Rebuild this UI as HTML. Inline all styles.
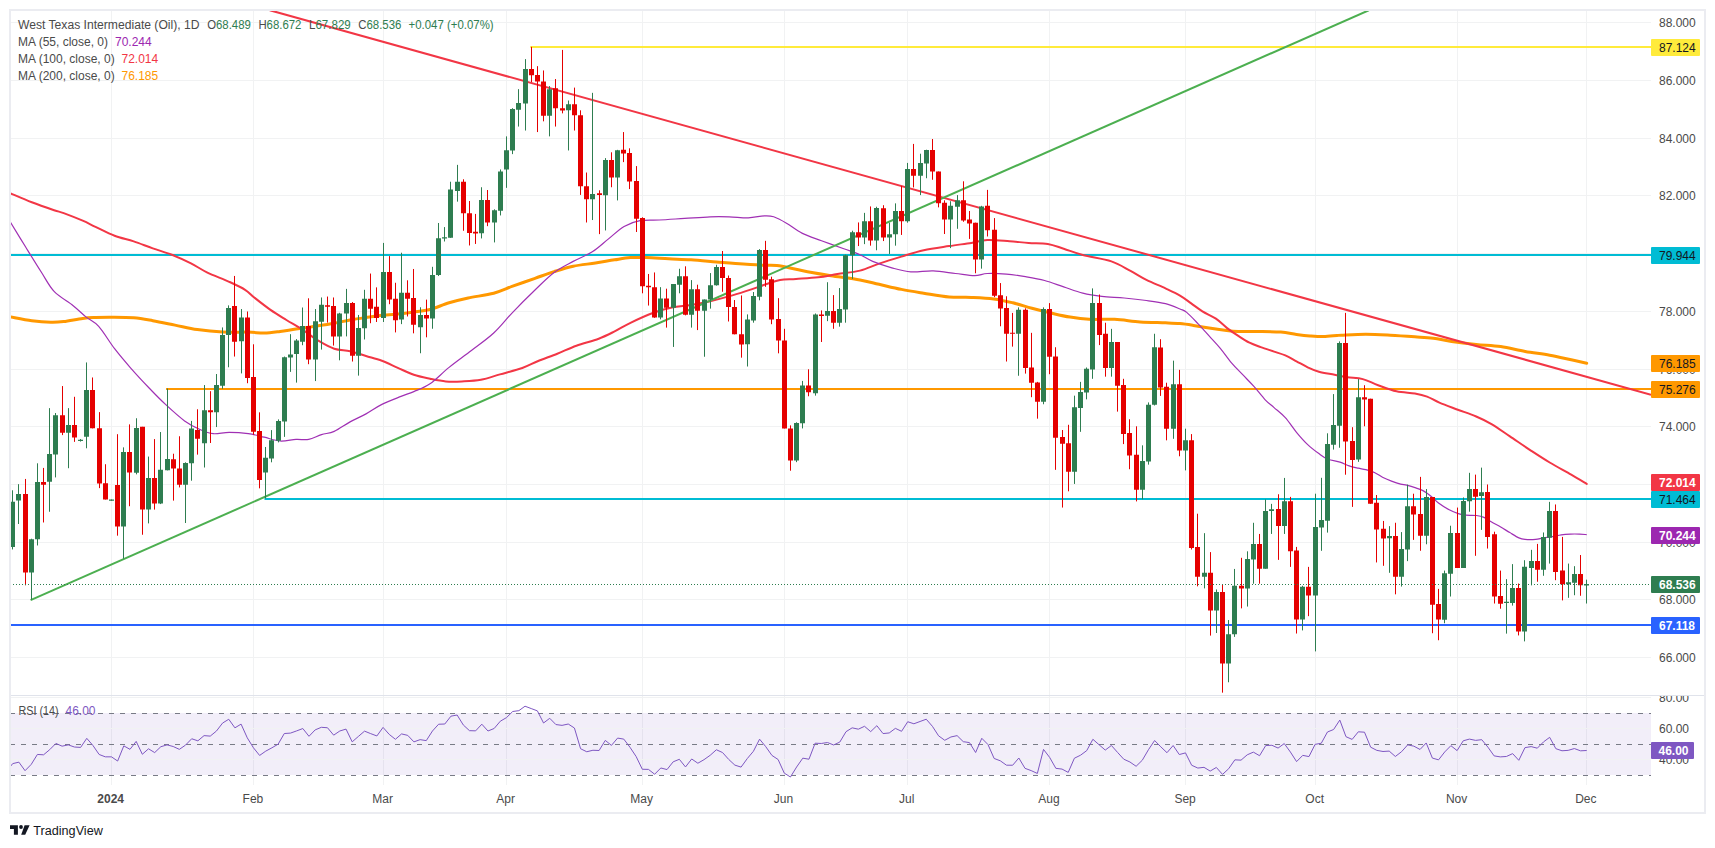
<!DOCTYPE html><html><head><meta charset="utf-8"><title>West Texas Intermediate (Oil), 1D</title>
<style>html,body{margin:0;padding:0;background:#fff;}body{width:1715px;height:848px;overflow:hidden;}svg{display:block;}text{font-family:'Liberation Sans', Arial, sans-serif;}</style></head><body>
<svg width="1715" height="848" viewBox="0 0 1715 848">
<rect width="1715" height="848" fill="#ffffff"/>
<defs><clipPath id="mp"><rect x="11" y="11" width="1640" height="684"/></clipPath><clipPath id="rp"><rect x="11" y="696" width="1640" height="88"/></clipPath><clipPath id="rl"><rect x="11" y="696" width="1692" height="88"/></clipPath></defs>
<path d="M11 657.5 H1651 M11 599.5 H1651 M11 542.5 H1651 M11 484.5 H1651 M11 426.5 H1651 M11 369.5 H1651 M11 311.5 H1651 M11 253.5 H1651 M11 195.5 H1651 M11 138.5 H1651 M11 80.5 H1651 M11 22.5 H1651 M111.5 11 V695 M111.5 696 V785 M253.5 11 V695 M253.5 696 V785 M383.5 11 V695 M383.5 696 V785 M506.5 11 V695 M506.5 696 V785 M642.5 11 V695 M642.5 696 V785 M784.5 11 V695 M784.5 696 V785 M907.5 11 V695 M907.5 696 V785 M1049.5 11 V695 M1049.5 696 V785 M1185.5 11 V695 M1185.5 696 V785 M1315.5 11 V695 M1315.5 696 V785 M1457.5 11 V695 M1457.5 696 V785 M1586.5 11 V695 M1586.5 696 V785" stroke="#f1f2f3" stroke-width="1" fill="none"/>
<rect x="11" y="713" width="1640" height="62" fill="#7e57c2" fill-opacity="0.1"/>
<path d="M11 728.5 H1651 M11 759.5 H1651" stroke="#f1f2f3" stroke-width="1"/>
<path d="M11 697.5 H1651" stroke="#f1f2f3" stroke-width="1"/>
<path d="M10 713.5 H1651" stroke="#787b86" stroke-width="1" stroke-dasharray="5 6"/>
<path d="M10 744.5 H1651" stroke="#787b86" stroke-width="1" stroke-dasharray="5 6"/>
<path d="M10 775.5 H1651" stroke="#787b86" stroke-width="1" stroke-dasharray="5 6"/>
<g clip-path="url(#mp)">
<path d="M11 255 H1651" stroke="#00bcd4" stroke-width="2"/>
<path d="M264.5 499 H1651" stroke="#00bcd4" stroke-width="2"/>
<path d="M11 625 H1651" stroke="#2962ff" stroke-width="2"/>
<path d="M530.3 47 H1651" stroke="#ffeb3b" stroke-width="2"/>
<path d="M166 389 H1651" stroke="#ff9800" stroke-width="2"/>
<path d="M10.5 316.9 C14.05 317.53 25.07 319.8 31.8 320.7 C38.53 321.6 45.58 322.15 50.9 322.3 C56.22 322.45 58.4 322.25 63.7 321.6 C69 320.95 77.4 319.08 82.7 318.4 C88 317.72 90.72 317.7 95.5 317.5 C100.28 317.3 105.03 317.15 111.4 317.2 C117.77 317.25 126.8 317.22 133.7 317.8 C140.6 318.38 145.92 319.48 152.8 320.7 C159.68 321.92 167.58 323.62 175 325.1 C182.42 326.58 189.33 328.43 197.3 329.6 C205.27 330.77 214.3 331.68 222.8 332.1 C231.3 332.52 241.4 331.93 248.3 332.1 C255.2 332.27 258.9 333.2 264.2 333.1 C269.5 333 274.8 332.18 280.1 331.5 C285.4 330.82 289.63 329.95 296 329 C302.37 328.05 311.93 326.77 318.3 325.8 C324.67 324.83 328.9 324.17 334.2 323.2 C339.5 322.23 344.8 320.95 350.1 320 C355.4 319.05 360.7 318.28 366 317.5 C371.3 316.72 376.07 315.93 381.9 315.3 C387.73 314.67 395.68 314.23 401 313.7 C406.32 313.17 408.97 312.8 413.8 312.1 C418.63 311.4 424.12 311.05 430 309.5 C435.88 307.95 442.73 304.72 449.1 302.8 C455.47 300.88 460.77 299.6 468.2 298 C475.63 296.4 486.28 295.17 493.7 293.2 C501.12 291.23 505.82 288.68 512.7 286.2 C519.58 283.72 528.1 280.73 535 278.3 C541.9 275.87 547.73 273.62 554.1 271.6 C560.47 269.58 566.3 267.63 573.2 266.2 C580.1 264.77 588.6 264.07 595.5 263 C602.4 261.93 608.77 260.7 614.6 259.8 C620.43 258.9 625.2 257.97 630.5 257.6 C635.8 257.23 640.03 257.4 646.4 257.6 C652.77 257.8 661.27 258.43 668.7 258.8 C676.13 259.17 683.05 259.27 691 259.8 C698.95 260.33 708.98 261.37 716.4 262 C723.82 262.63 728.07 263.07 735.5 263.6 C742.93 264.13 754.1 264.88 761 265.2 C767.9 265.52 771.07 264.82 776.9 265.5 C782.73 266.18 790.17 268.13 796 269.3 C801.83 270.47 806.07 271.43 811.9 272.5 C817.73 273.57 822.98 274.47 831 275.7 C839.02 276.93 851.98 278.47 860 279.9 C868.02 281.33 872.2 282.72 879.1 284.3 C886 285.88 893.97 287.92 901.4 289.4 C908.83 290.88 915.75 291.93 923.7 293.2 C931.65 294.47 941.15 296.3 949.1 297 C957.05 297.7 963.97 297.08 971.4 297.4 C978.83 297.72 986.8 298 993.7 298.9 C1000.6 299.8 1006.43 301.25 1012.8 302.8 C1019.17 304.35 1025.53 306.5 1031.9 308.2 C1038.27 309.9 1044.63 311.52 1051 313 C1057.37 314.48 1063.73 316.05 1070.1 317.1 C1076.47 318.15 1081.78 318.93 1089.2 319.3 C1096.62 319.67 1106.12 318.87 1114.6 319.3 C1123.08 319.73 1131.62 321.32 1140.1 321.9 C1148.58 322.48 1158.85 322.52 1165.5 322.8 C1172.15 323.08 1175.35 323.17 1180 323.6 C1184.65 324.03 1188.55 324.65 1193.4 325.4 C1198.25 326.15 1203.87 327.28 1209.1 328.1 C1214.33 328.92 1219.93 329.73 1224.8 330.3 C1229.67 330.87 1232.7 331.3 1238.3 331.5 C1243.9 331.7 1251.32 331.4 1258.4 331.5 C1265.48 331.6 1274.45 331.62 1280.8 332.1 C1287.15 332.58 1291.63 333.77 1296.5 334.4 C1301.37 335.03 1305.52 335.53 1310 335.9 C1314.48 336.27 1318.92 336.67 1323.4 336.6 C1327.88 336.53 1333.92 335.73 1336.9 335.5 C1339.88 335.27 1336.48 335.4 1341.3 335.2 C1346.12 335 1357.63 334.3 1365.8 334.3 C1373.97 334.3 1382.12 334.78 1390.3 335.2 C1398.48 335.62 1407.73 336.28 1414.9 336.8 C1422.07 337.32 1427.18 337.53 1433.3 338.3 C1439.42 339.07 1444.45 340.38 1451.6 341.4 C1458.75 342.42 1468.02 343.53 1476.2 344.4 C1484.38 345.27 1492.53 345.42 1500.7 346.6 C1508.87 347.78 1517.03 350.07 1525.2 351.5 C1533.37 352.93 1542.03 353.82 1549.7 355.2 C1557.37 356.58 1565.03 358.47 1571.2 359.8 C1577.37 361.13 1584.12 362.63 1586.7 363.2" stroke="#ff9800" stroke-width="3" fill="none" stroke-linejoin="round" stroke-linecap="round"/>
<path d="M10.5 193.4 C14.05 194.88 24.53 199.5 31.8 202.3 C39.07 205.1 48.78 208.4 54.1 210.2 C59.42 212 58.93 211.35 63.7 213.1 C68.47 214.85 77.4 218.42 82.7 220.7 C88 222.98 90.18 224.3 95.5 226.8 C100.82 229.3 108.23 233.27 114.6 235.7 C120.97 238.13 127.33 239.28 133.7 241.4 C140.07 243.52 146.43 246.17 152.8 248.4 C159.17 250.63 165.53 252.3 171.9 254.8 C178.27 257.3 185.17 260.48 191 263.4 C196.83 266.32 200.53 269.23 206.9 272.3 C213.27 275.37 222.83 278.88 229.2 281.8 C235.57 284.72 240.87 287.13 245.1 289.8 C249.33 292.47 250.37 294.45 254.6 297.8 C258.83 301.15 265.2 306.2 270.5 309.9 C275.8 313.6 281.08 316.72 286.4 320 C291.72 323.28 297.08 326.15 302.4 329.6 C307.72 333.05 313 337.52 318.3 340.7 C323.6 343.88 328.9 346.95 334.2 348.7 C339.5 350.45 344.8 349.98 350.1 351.2 C355.4 352.42 360.7 354.4 366 356 C371.3 357.6 376.6 358.83 381.9 360.8 C387.2 362.77 392.48 365.47 397.8 367.8 C403.12 370.13 408.43 372.98 413.8 374.8 C419.17 376.62 424.65 377.6 430 378.7 C435.35 379.8 440.6 380.95 445.9 381.4 C451.2 381.85 455.97 381.67 461.8 381.4 C467.63 381.13 474.53 380.97 480.9 379.8 C487.27 378.63 493.1 376.37 500 374.4 C506.9 372.43 515.93 370.23 522.3 368 C528.67 365.77 532.37 363.38 538.2 361 C544.03 358.62 550.93 356.25 557.3 353.7 C563.67 351.15 569.5 348.2 576.4 345.7 C583.3 343.2 592.33 341.08 598.7 338.7 C605.07 336.32 609.3 334.05 614.6 331.4 C619.9 328.75 624.13 325.87 630.5 322.8 C636.87 319.73 645.9 315.55 652.8 313 C659.7 310.45 665.53 308.83 671.9 307.5 C678.27 306.17 684.63 306.05 691 305 C697.37 303.95 703.2 302.8 710.1 301.2 C717 299.6 725.52 297.37 732.4 295.4 C739.28 293.43 745.57 291.35 751.4 289.4 C757.23 287.45 762.62 285.28 767.4 283.7 C772.18 282.12 775.33 280.7 780.1 279.9 C784.87 279.1 789.63 279.33 796 278.9 C802.37 278.47 811.4 278.1 818.3 277.3 C825.2 276.5 830.45 275.22 837.4 274.1 C844.35 272.98 853.05 272.35 860 270.6 C866.95 268.85 872.2 265.93 879.1 263.6 C886 261.27 893.97 258.82 901.4 256.6 C908.83 254.38 915.75 252.05 923.7 250.3 C931.65 248.55 941.15 247.33 949.1 246.1 C957.05 244.87 965.03 243.9 971.4 242.9 C977.77 241.9 980.93 240.37 987.3 240.1 C993.67 239.83 1002.7 240.83 1009.6 241.3 C1016.5 241.77 1022.33 242.47 1028.7 242.9 C1035.07 243.33 1041.97 242.93 1047.8 243.9 C1053.63 244.87 1057.87 246.85 1063.7 248.7 C1069.53 250.55 1074.85 252.88 1082.8 255 C1090.75 257.12 1103.45 258.75 1111.4 261.4 C1119.35 264.05 1124.67 267.82 1130.5 270.9 C1136.33 273.98 1140.57 276.98 1146.4 279.9 C1152.23 282.82 1159.9 285.78 1165.5 288.4 C1171.1 291.02 1175.72 293.1 1180 295.6 C1184.28 298.1 1187.47 300.78 1191.2 303.4 C1194.93 306.02 1198.28 308.75 1202.4 311.3 C1206.52 313.85 1211.78 315.9 1215.9 318.7 C1220.02 321.5 1223.37 325.23 1227.1 328.1 C1230.83 330.97 1234.57 333.47 1238.3 335.9 C1242.03 338.33 1245.77 340.83 1249.5 342.7 C1253.23 344.57 1256.6 345.62 1260.7 347.1 C1264.8 348.58 1270 350.22 1274.1 351.6 C1278.2 352.98 1281.57 353.78 1285.3 355.4 C1289.03 357.02 1292.77 359.32 1296.5 361.3 C1300.23 363.28 1303.97 365.55 1307.7 367.3 C1311.43 369.05 1314.42 370.57 1318.9 371.8 C1323.38 373.03 1329.85 373.8 1334.6 374.7 C1339.35 375.6 1342.7 376.47 1347.4 377.2 C1352.1 377.93 1357.68 377.77 1362.8 379.1 C1367.92 380.43 1372.48 383.17 1378.1 385.2 C1383.72 387.23 1390.37 389.92 1396.5 391.3 C1402.63 392.68 1409.8 392.62 1414.9 393.5 C1420 394.38 1423.02 395.07 1427.1 396.6 C1431.18 398.13 1434.28 400.52 1439.4 402.7 C1444.52 404.88 1451.67 407.4 1457.8 409.7 C1463.93 412 1470.58 414.1 1476.2 416.5 C1481.82 418.9 1485.88 420.78 1491.5 424.1 C1497.12 427.42 1503.27 431.95 1509.9 436.4 C1516.53 440.85 1524.67 446.45 1531.3 450.8 C1537.93 455.15 1543.05 458.52 1549.7 462.5 C1556.35 466.48 1565.03 471.13 1571.2 474.7 C1577.37 478.27 1584.12 482.37 1586.7 483.9" stroke="#f23645" stroke-width="2" fill="none" stroke-linejoin="round" stroke-linecap="round"/>
<path d="M10.5 222.3 C13 226.38 20.35 238.47 25.5 246.8 C30.65 255.13 36.63 264.87 41.4 272.3 C46.17 279.73 48.8 285.83 54.1 291.4 C59.4 296.97 67.9 301.45 73.2 305.7 C78.5 309.95 81.65 313.45 85.9 316.9 C90.15 320.35 93.92 321.1 98.7 326.4 C103.48 331.7 109.3 341.8 114.6 348.7 C119.9 355.6 124.67 361.17 130.5 367.8 C136.33 374.43 143.77 382.4 149.6 388.5 C155.43 394.6 159.67 399 165.5 404.4 C171.33 409.8 178.77 416.67 184.6 420.9 C190.43 425.13 195.73 427.67 200.5 429.8 C205.27 431.93 208.42 433.27 213.2 433.7 C217.98 434.13 223.35 432.4 229.2 432.4 C235.05 432.4 242.47 432.9 248.3 433.7 C254.13 434.5 258.9 435.98 264.2 437.2 C269.5 438.42 274.8 440.63 280.1 441 C285.4 441.37 291.23 439.67 296 439.4 C300.77 439.13 304.45 440.2 308.7 439.4 C312.95 438.6 317.25 435.93 321.5 434.6 C325.75 433.27 329.43 433.52 334.2 431.4 C338.97 429.28 344.8 424.82 350.1 421.9 C355.4 418.98 360.7 416.82 366 413.9 C371.3 410.98 376.07 407.32 381.9 404.4 C387.73 401.48 395.68 398.53 401 396.4 C406.32 394.27 408.97 393.7 413.8 391.6 C418.63 389.5 424.12 387.83 430 383.8 C435.88 379.77 442.2 372.95 449.1 367.4 C456 361.85 463.97 356.23 471.4 350.5 C478.83 344.77 486.82 339.37 493.7 333 C500.58 326.63 505.82 319.47 512.7 312.3 C519.58 305.13 528.1 296.63 535 290 C541.9 283.37 547.73 277.27 554.1 272.5 C560.47 267.73 566.83 264.85 573.2 261.4 C579.57 257.95 586.47 255.52 592.3 251.8 C598.13 248.08 602.9 243.33 608.2 239.1 C613.5 234.87 618.8 229.47 624.1 226.4 C629.4 223.33 634.15 221.77 640 220.7 C645.85 219.63 651.77 220.38 659.2 220 C666.63 219.62 676.12 218.93 684.6 218.4 C693.08 217.87 702.67 217.07 710.1 216.8 C717.53 216.53 722.83 216.63 729.2 216.8 C735.57 216.97 742.47 217.95 748.3 217.8 C754.13 217.65 759.97 216.07 764.2 215.9 C768.43 215.73 769.98 215.58 773.7 216.8 C777.42 218.02 781.72 220.43 786.5 223.2 C791.28 225.97 796.57 230.48 802.4 233.4 C808.23 236.32 814.6 238.15 821.5 240.7 C828.4 243.25 837.38 246.37 843.8 248.7 C850.22 251.03 855.18 252.58 860 254.7 C864.82 256.82 867.4 259.22 872.7 261.4 C878 263.58 885.43 266.05 891.8 267.8 C898.17 269.55 904 271.38 910.9 271.9 C917.8 272.42 925.77 270.63 933.2 270.9 C940.63 271.17 948.6 272.7 955.5 273.5 C962.4 274.3 969.3 275.7 974.6 275.7 C979.9 275.7 982 273.77 987.3 273.5 C992.6 273.23 1000.03 273.57 1006.4 274.1 C1012.77 274.63 1019.13 275.63 1025.5 276.7 C1031.87 277.77 1038.23 278.8 1044.6 280.5 C1050.97 282.2 1057.33 284.78 1063.7 286.9 C1070.07 289.02 1076.43 291.62 1082.8 293.2 C1089.17 294.78 1095 295.6 1101.9 296.4 C1108.8 297.2 1116.78 297.32 1124.2 298 C1131.62 298.68 1139.52 299.55 1146.4 300.5 C1153.28 301.45 1159.9 302.28 1165.5 303.7 C1171.1 305.12 1176.47 307.55 1180 309 C1183.53 310.45 1183.72 309.97 1186.7 312.4 C1189.68 314.83 1194.17 319.68 1197.9 323.6 C1201.63 327.52 1205.37 331.78 1209.1 335.9 C1212.83 340.02 1216.57 343.82 1220.3 348.3 C1224.03 352.78 1227.77 358.4 1231.5 362.8 C1235.23 367.2 1238.97 370.77 1242.7 374.7 C1246.43 378.63 1250.15 382.22 1253.9 386.4 C1257.65 390.58 1261.83 396.27 1265.2 399.8 C1268.57 403.33 1270.75 404.62 1274.1 407.6 C1277.45 410.58 1281.57 413.58 1285.3 417.7 C1289.03 421.82 1292.77 427.82 1296.5 432.3 C1300.23 436.78 1303.97 441.05 1307.7 444.6 C1311.43 448.15 1315.53 451.17 1318.9 453.6 C1322.27 456.03 1324.38 457.78 1327.9 459.2 C1331.42 460.62 1336.47 460.98 1340 462.1 C1343.53 463.22 1346.07 464.88 1349.1 465.9 C1352.13 466.92 1355.42 467.57 1358.2 468.2 C1360.98 468.83 1363.02 468.95 1365.8 469.7 C1368.58 470.45 1372.12 471.43 1374.9 472.7 C1377.68 473.97 1379.73 475.9 1382.5 477.3 C1385.27 478.7 1388.48 479.97 1391.5 481.1 C1394.52 482.23 1398.07 483.42 1400.6 484.1 C1403.13 484.78 1404.17 484.57 1406.7 485.2 C1409.23 485.83 1413.02 486.95 1415.8 487.9 C1418.58 488.85 1420.87 489.52 1423.4 490.9 C1425.93 492.28 1428.48 494.18 1431 496.2 C1433.52 498.22 1435.47 500.73 1438.5 503 C1441.53 505.27 1445.9 508.03 1449.2 509.8 C1452.5 511.57 1455.53 512.7 1458.3 513.6 C1461.07 514.5 1462.78 514.88 1465.8 515.2 C1468.82 515.52 1473.37 515.13 1476.4 515.5 C1479.43 515.87 1481.47 516.32 1484 517.4 C1486.53 518.48 1488.82 520.4 1491.6 522 C1494.38 523.6 1497.67 525.23 1500.7 527 C1503.73 528.77 1506.77 530.78 1509.8 532.6 C1512.83 534.42 1516.37 536.77 1518.9 537.9 C1521.43 539.03 1522.22 539.15 1525 539.4 C1527.78 539.65 1532.57 539.65 1535.6 539.4 C1538.63 539.15 1540.43 538.35 1543.2 537.9 C1545.97 537.45 1549.18 537.22 1552.2 536.7 C1555.22 536.18 1558.27 535.23 1561.3 534.8 C1564.33 534.37 1567.37 534.22 1570.4 534.1 C1573.43 533.98 1576.78 534.02 1579.5 534.1 C1582.22 534.18 1585.5 534.52 1586.7 534.6" stroke="#a030b4" stroke-width="1.2" fill="none" stroke-linejoin="round"/>
<path d="M269.7 10.2 L1651 394.7" stroke="#f23645" stroke-width="2"/>
<path d="M30.6 600.1 L1368.8 10.3" stroke="#4caf50" stroke-width="2"/>
<path d="M12.5 490.29 V549.45 M18.5 484.16 V524.01 M31.5 538.72 V599.73 M37.5 463.31 V545.47 M49.5 408.13 V511.75 M55.5 413.03 V477.41 M68.5 408.13 V468.22 M80.5 439.09 V441.55 M86.5 362.45 V448.29 M111.5 499.48 V500.71 M123.5 447.37 V558.65 M136.5 418.25 V474.35 M148.5 456.57 V523.4 M160.5 432.04 V504.08 M167.5 388.51 V470.36 M185.5 462.3 V522.99 M191.5 420.92 V480.69 M204.5 385.06 V467.51 M216.5 374.02 V427.05 M222.5 327.43 V388.74 M228.5 305.36 V367.28 M241.5 309.04 V373.41 M265.5 446.97 V498.47 M271.5 430.11 V462.3 M278.5 419.39 V442.38 M284.5 356.55 V436.86 M290.5 334.18 V371.88 M296.5 339.08 V382.61 M302.5 307.51 V345.21 M315.5 309.04 V381.07 M321.5 297.47 V349.58 M339.5 312.8 V360.31 M346.5 288.89 V336.4 M358.5 314.94 V375.63 M364.5 289.81 V339.46 M383.5 242.91 V321.99 M401.5 252.72 V324.14 M420.5 307.28 V353.26 M432.5 266.82 V328.74 M438.5 222.99 V276.02 M444.5 227.09 V241.49 M450.5 181.72 V237.82 M457.5 164.87 V201.65 M481.5 187.24 V238.43 M494.5 209.31 V242.41 M500.5 169.46 V215.44 M506.5 136.36 V187.85 M512.5 108.16 V154.14 M518.5 89.16 V126.55 M525.5 59.12 V130.54 M549.5 86.09 V136.36 M568.5 100.5 V150.46 M592.5 92.84 V220.04 M605.5 158.12 V230.46 M617.5 149.85 V200.42 M660.5 287.16 V319.35 M673.5 284.1 V346.93 M679.5 268.77 V293.3 M691.5 280.11 V327.62 M704.5 299.43 V356.74 M710.5 273.07 V308.62 M716.5 264.79 V285.63 M747.5 314.41 V366.51 M753.5 292.03 V322.68 M759.5 249.12 V300.31 M796.5 422.3 V462.15 M802.5 380.92 V428.43 M815.5 313.49 V395.63 M827.5 282.22 V321.15 M839.5 288.05 V326.67 M845.5 254.64 V322.68 M852.5 230.73 V278.85 M864.5 212.87 V244.14 M876.5 206.74 V250.27 M889.5 222.68 V253.95 M895.5 203.37 V245.67 M907.5 162.91 V222.68 M920.5 153.72 V195.1 M926.5 149.73 V178.24 M950.5 201.23 V248.12 M957.5 195.1 V228.81 M981.5 205.82 V268.66 M1018.5 307.39 V375.75 M1043.5 307.39 V404.25 M1074.5 395.67 V483.95 M1080.5 381.88 V431.84 M1086.5 367.47 V399.35 M1092.5 288.39 V378.81 M1111.5 328.85 V376.67 M1142.5 445.33 V499.27 M1148.5 402.41 V464.64 M1154.5 333.75 V405.48 M1173.5 360.65 V438.81 M1185.5 428.7 V470.38 M1204.5 533.16 V588.4 M1216.5 589.44 V633.01 M1228.5 620.04 V682.28 M1234.5 568.95 V636.9 M1247.5 551.32 V606.56 M1253.5 522.79 V583.73 M1265.5 499.45 V568.69 M1271.5 503.86 V533.94 M1284.5 477.93 V533.94 M1302.5 585.81 V630.41 M1315.5 493.7 V651.4 M1321.5 477.8 V550.8 M1327.5 433.3 V532.6 M1333.5 394.1 V449.58 M1339.5 341.38 V447.74 M1358.5 379.08 V461.84 M1389.5 526.13 V572.81 M1401.5 532.1 V586.56 M1407.5 484.64 V561.14 M1426.5 489.05 V544.28 M1444.5 570.59 V623.24 M1450.5 525.73 V596.52 M1463.5 497.46 V568 M1469.5 472.82 V511.72 M1481.5 467.63 V529.88 M1506.5 579.15 V633.61 M1512.5 564.11 V605.6 M1524.5 560.22 V641.39 M1531.5 549.84 V585.37 M1543.5 532.47 V575.78 M1549.5 501.87 V563.59 M1568.5 563.59 V597.82 M1574.5 566.18 V595.23 M1586.5 579.67 V603.53" stroke="#2e7d50" stroke-width="1" fill="none"/>
<path d="M25.5 478.95 V585.32 M43.5 467.91 V522.48 M62.5 386.06 V435.11 M74.5 396.79 V441.85 M92.5 377.47 V428.36 M99.5 412.12 V488.14 M105.5 464.23 V499.48 M117.5 434.19 V535.66 M129.5 424.38 V506.23 M142.5 426.83 V534.74 M154.5 439.09 V509.6 M173.5 453.72 V500.61 M179.5 436.25 V487.43 M197.5 409.27 V454.64 M210.5 391.19 V442.99 M234.5 275.94 V356.55 M247.5 311.49 V383.22 M253.5 344.29 V434.71 M259.5 412.34 V488.35 M308.5 298.31 V364.21 M327.5 296.55 V322.61 M333.5 297.47 V345.59 M352.5 302.07 V361.53 M370.5 273.56 V323.22 M376.5 287.36 V321.99 M389.5 256.09 V304.21 M395.5 282.76 V332.41 M407.5 280.31 V316.48 M413.5 268.97 V333.33 M426.5 299.62 V337.32 M463.5 179.27 V230.77 M469.5 201.03 V245.48 M475.5 213.91 V243.95 M487.5 190 V226.17 M531.5 46.86 V82.11 M537.5 66.17 V132.07 M543.5 70.46 V121.34 M555.5 79.04 V126.55 M562.5 49.92 V113.37 M574.5 87.62 V130.54 M580.5 110.31 V194.9 M586.5 172.53 V222.49 M599.5 190.31 V234.14 M611.5 152.3 V187.24 M623.5 132.07 V162.11 M629.5 148.31 V189.08 M636.5 166.09 V231.99 M642.5 217.28 V293.3 M648.5 273.98 V305.56 M654.5 272.45 V317.82 M666.5 288.7 V327.62 M685.5 266.32 V315.36 M697.5 284.71 V330.08 M722.5 251 V291.76 M728.5 275.52 V321.49 M734.5 300.04 V334.37 M741.5 295.44 V357.66 M765.5 240.84 V286.82 M771.5 276.7 V324.21 M778.5 298.16 V353.33 M784.5 328.81 V428.43 M790.5 425.36 V470.73 M808.5 369.27 V396.25 M821.5 310.42 V341.99 M833.5 295.1 V328.81 M858.5 222.45 V246.05 M870.5 206.44 V245.67 M883.5 205.21 V241.07 M901.5 185.9 V234.94 M913.5 143.91 V187.43 M932.5 139 V179.77 M938.5 171.49 V207.36 M944.5 200.31 V234.02 M963.5 181.3 V221.76 M969.5 211.03 V238.93 M975.5 222.68 V273.26 M987.5 189.89 V236.48 M994.5 218.08 V297.16 M1000.5 283.07 V326.28 M1006.5 296.25 V361.53 M1012.5 312.91 V346.63 M1025.5 308.31 V373.6 M1031.5 332.84 V397.2 M1037.5 381.88 V418.66 M1049.5 303.1 V374.21 M1055.5 347.24 V469.85 M1062.5 430 V507.55 M1068.5 424.79 V491.3 M1099.5 294.52 V345.1 M1105.5 322.72 V376.67 M1117.5 342.03 V411.61 M1123.5 378.81 V444.1 M1129.5 419.27 V469.23 M1136.5 426.32 V501.42 M1160.5 339.2 V395.9 M1166.5 382.72 V440.34 M1179.5 369.85 V456.28 M1191.5 434.1 V549.5 M1197.5 513.71 V586.33 M1210.5 552.1 V635.6 M1222.5 585.03 V692.66 M1241.5 557.8 V608.37 M1259.5 533.94 V583.73 M1278.5 494.26 V559.88 M1290.5 496.86 V566.88 M1296.5 546.91 V633.53 M1308.5 566.88 V616.15 M1345.5 312.87 V474.71 M1352.5 427.2 V506.9 M1364.5 385.21 V426.28 M1370.5 398.7 V503.83 M1376.5 495.01 V562.44 M1383.5 520.94 V565.81 M1395.5 522.76 V594.34 M1413.5 493.71 V539.88 M1420.5 476.86 V550.77 M1432.5 497.09 V633.24 M1438.5 588.89 V640.24 M1457.5 507.57 V568 M1475.5 474.64 V555.81 M1487.5 484.49 V548.55 M1494.5 531.69 V603.53 M1500.5 570.59 V608.71 M1518.5 583.56 V635.43 M1537.5 543.88 V581.74 M1555.5 504.46 V580.19 M1562.5 536.88 V600.41 M1580.5 555.03 V595.75" stroke="#e50000" stroke-width="1" fill="none"/>
<path d="M10 501.63 h5 v45.37 h-5 Z M16 493.97 h5 v6.44 h-5 Z M29 539.34 h5 v33.11 h-5 Z M35 482.01 h5 v57.33 h-5 Z M47 454.11 h5 v27.59 h-5 Z M53 415.18 h5 v39.24 h-5 Z M66 424.99 h5 v7.66 h-5 Z M78 439.71 h5 v1.23 h-5 Z M84 390.04 h5 v46.6 h-5 Z M109 499.48 h5 v1.23 h-5 Z M121 451.97 h5 v74.49 h-5 Z M134 428.06 h5 v44.76 h-5 Z M146 478.03 h5 v31.58 h-5 Z M158 469.75 h5 v33.72 h-5 Z M165 459.02 h5 v11.34 h-5 Z M183 462.91 h5 v21.76 h-5 Z M189 428.58 h5 v34.64 h-5 Z M202 410.19 h5 v33.1 h-5 Z M214 385.06 h5 v27.28 h-5 Z M220 335.1 h5 v50.57 h-5 Z M226 308.12 h5 v26.97 h-5 Z M239 317.62 h5 v23.6 h-5 Z M263 457.7 h5 v14.71 h-5 Z M269 440.23 h5 v18.39 h-5 Z M276 420.92 h5 v19.92 h-5 Z M282 357.16 h5 v64.37 h-5 Z M288 354.41 h5 v3.07 h-5 Z M294 340.61 h5 v13.49 h-5 Z M300 325.9 h5 v15.94 h-5 Z M313 321.3 h5 v38.31 h-5 Z M319 304.83 h5 v16.86 h-5 Z M337 313.41 h5 v22.99 h-5 Z M344 302.99 h5 v10.42 h-5 Z M356 328.12 h5 v27.59 h-5 Z M362 298.7 h5 v29.43 h-5 Z M381 272.03 h5 v45.98 h-5 Z M399 292.87 h5 v26.67 h-5 Z M418 314.94 h5 v12.26 h-5 Z M430 275.1 h5 v43.52 h-5 Z M436 238.31 h5 v36.78 h-5 Z M442 237.2 h5 v1.23 h-5 Z M448 189.39 h5 v48.43 h-5 Z M455 181.72 h5 v9.2 h-5 Z M479 200.11 h5 v33.1 h-5 Z M492 210.23 h5 v12.26 h-5 Z M498 171.61 h5 v39.23 h-5 Z M504 150.15 h5 v19.31 h-5 Z M510 109.08 h5 v41.38 h-5 Z M516 102.95 h5 v6.74 h-5 Z M523 68.93 h5 v34.64 h-5 Z M547 89.16 h5 v26.67 h-5 Z M566 104.18 h5 v6.13 h-5 Z M590 193.98 h5 v5.21 h-5 Z M603 159.96 h5 v35.25 h-5 Z M615 150.15 h5 v27.28 h-5 Z M658 298.51 h5 v19 h-5 Z M671 284.1 h5 v23.6 h-5 Z M677 276.13 h5 v8.58 h-5 Z M689 289.31 h5 v25.44 h-5 Z M702 299.43 h5 v11.34 h-5 Z M708 285.33 h5 v14.1 h-5 Z M714 266.93 h5 v18.39 h-5 Z M745 319.62 h5 v24.52 h-5 Z M751 296.02 h5 v24.52 h-5 Z M757 250.04 h5 v46.59 h-5 Z M794 422.91 h5 v37.7 h-5 Z M800 385.52 h5 v37.7 h-5 Z M813 314.41 h5 v78.77 h-5 Z M825 311.03 h5 v4.6 h-5 Z M837 308.89 h5 v13.79 h-5 Z M843 255.25 h5 v54.25 h-5 Z M850 232.26 h5 v22.99 h-5 Z M862 221.15 h5 v16.25 h-5 Z M874 207.97 h5 v32.49 h-5 Z M887 234.33 h5 v3.07 h-5 Z M893 211.03 h5 v23.3 h-5 Z M905 169.04 h5 v52.11 h-5 Z M918 162.91 h5 v12.87 h-5 Z M924 150.04 h5 v13.49 h-5 Z M948 205.82 h5 v13.79 h-5 Z M955 200.31 h5 v6.44 h-5 Z M979 206.44 h5 v53.03 h-5 Z M1016 309.85 h5 v23.91 h-5 Z M1041 308.93 h5 v92.87 h-5 Z M1072 407.32 h5 v64.37 h-5 Z M1078 391.99 h5 v15.94 h-5 Z M1084 368.7 h5 v23.91 h-5 Z M1090 303.1 h5 v66.51 h-5 Z M1109 342.03 h5 v26.05 h-5 Z M1140 460.96 h5 v28.81 h-5 Z M1146 404.87 h5 v56.7 h-5 Z M1152 347.24 h5 v57.62 h-5 Z M1171 384.25 h5 v44.44 h-5 Z M1183 440.34 h5 v10.11 h-5 Z M1202 572.84 h5 v3.89 h-5 Z M1214 592.03 h5 v18.41 h-5 Z M1226 634.3 h5 v29.3 h-5 Z M1232 585.81 h5 v48.5 h-5 Z M1245 559.1 h5 v29.3 h-5 Z M1251 544.06 h5 v15.56 h-5 Z M1263 511.12 h5 v57.57 h-5 Z M1269 509.3 h5 v1.82 h-5 Z M1282 501.27 h5 v24.64 h-5 Z M1300 586.85 h5 v32.68 h-5 Z M1313 526.9 h5 v68.5 h-5 Z M1319 520.1 h5 v7.3 h-5 Z M1325 444.1 h5 v76.6 h-5 Z M1331 425.06 h5 v19.62 h-5 Z M1337 342.91 h5 v82.76 h-5 Z M1356 397.16 h5 v62.22 h-5 Z M1387 535.99 h5 v2.33 h-5 Z M1399 548.95 h5 v27.75 h-5 Z M1405 506.16 h5 v43.31 h-5 Z M1424 497.09 h5 v38.64 h-5 Z M1442 573.18 h5 v46.68 h-5 Z M1448 532.99 h5 v40.72 h-5 Z M1461 501.09 h5 v66.91 h-5 Z M1467 488.9 h5 v12.45 h-5 Z M1479 492.27 h5 v3.63 h-5 Z M1504 601.71 h5 v1.3 h-5 Z M1510 587.97 h5 v15.04 h-5 Z M1522 566.7 h5 v64.83 h-5 Z M1529 561 h5 v7 h-5 Z M1541 536.88 h5 v32.94 h-5 Z M1547 510.94 h5 v26.71 h-5 Z M1566 582.26 h5 v2.07 h-5 Z M1572 573.96 h5 v8.82 h-5 Z M1584 584.08 h5 v1.3 h-5 Z" fill="#2e7d50"/>
<path d="M23 493.97 h5 v78.48 h-5 Z M41 482.01 h5 v2.76 h-5 Z M60 415.18 h5 v17.47 h-5 Z M72 424.99 h5 v12.57 h-5 Z M90 390.04 h5 v38.32 h-5 Z M97 428.36 h5 v55.18 h-5 Z M103 483.24 h5 v16.25 h-5 Z M115 485.08 h5 v41.39 h-5 Z M127 451.97 h5 v20.54 h-5 Z M140 426.83 h5 v82.77 h-5 Z M152 478.03 h5 v25.44 h-5 Z M171 459.23 h5 v9.2 h-5 Z M177 468.43 h5 v16.25 h-5 Z M195 430.11 h5 v8.58 h-5 Z M208 410.19 h5 v2.15 h-5 Z M232 305.98 h5 v35.86 h-5 Z M245 317.62 h5 v60.38 h-5 Z M251 377.09 h5 v54.56 h-5 Z M257 431.03 h5 v49.04 h-5 Z M306 325.9 h5 v33.72 h-5 Z M325 305.13 h5 v1.53 h-5 Z M331 306.05 h5 v30.34 h-5 Z M350 302.99 h5 v52.72 h-5 Z M368 298.7 h5 v10.11 h-5 Z M374 306.67 h5 v11.34 h-5 Z M387 272.03 h5 v27.59 h-5 Z M393 298.7 h5 v21.46 h-5 Z M405 292.87 h5 v5.82 h-5 Z M411 298.08 h5 v26.67 h-5 Z M424 314.94 h5 v3.68 h-5 Z M461 181.72 h5 v31.57 h-5 Z M467 213.3 h5 v19.62 h-5 Z M473 231.69 h5 v1.84 h-5 Z M485 200.11 h5 v22.38 h-5 Z M529 68.93 h5 v6.44 h-5 Z M535 75.06 h5 v6.44 h-5 Z M541 81.49 h5 v34.33 h-5 Z M553 88.24 h5 v19.92 h-5 Z M560 108.16 h5 v2.45 h-5 Z M572 104.18 h5 v11.03 h-5 Z M578 115.21 h5 v71.11 h-5 Z M584 186.32 h5 v12.87 h-5 Z M597 193.37 h5 v1.53 h-5 Z M609 159.96 h5 v17.47 h-5 Z M621 149.85 h5 v3.68 h-5 Z M627 152.91 h5 v28.51 h-5 Z M634 181.11 h5 v37.7 h-5 Z M640 217.89 h5 v68.35 h-5 Z M646 285.63 h5 v1.53 h-5 Z M652 287.16 h5 v30.34 h-5 Z M664 298.51 h5 v9.2 h-5 Z M683 276.13 h5 v38.62 h-5 Z M695 289.31 h5 v21.46 h-5 Z M720 266.93 h5 v11.03 h-5 Z M726 277.97 h5 v29.12 h-5 Z M732 307.09 h5 v27.28 h-5 Z M739 334.37 h5 v10.11 h-5 Z M763 250.04 h5 v29.73 h-5 Z M769 279.16 h5 v40.46 h-5 Z M776 319 h5 v21.46 h-5 Z M782 340.46 h5 v87.97 h-5 Z M788 428.43 h5 v32.18 h-5 Z M806 385.52 h5 v6.74 h-5 Z M819 314.41 h5 v1.53 h-5 Z M831 311.03 h5 v11.65 h-5 Z M856 232.26 h5 v5.21 h-5 Z M868 221.15 h5 v19.31 h-5 Z M881 208.28 h5 v29.12 h-5 Z M899 211.03 h5 v10.11 h-5 Z M911 169.04 h5 v6.74 h-5 Z M930 150.04 h5 v21.46 h-5 Z M936 171.49 h5 v31.88 h-5 Z M942 202.76 h5 v16.86 h-5 Z M961 200.31 h5 v20.23 h-5 Z M967 219.62 h5 v3.98 h-5 Z M973 222.68 h5 v36.78 h-5 Z M985 205.82 h5 v24.52 h-5 Z M992 229.73 h5 v65.9 h-5 Z M998 295.33 h5 v13.18 h-5 Z M1004 307.89 h5 v25.75 h-5 Z M1010 332.84 h5 v1 h-5 Z M1023 309.85 h5 v58.24 h-5 Z M1029 367.47 h5 v15.33 h-5 Z M1035 382.49 h5 v19.31 h-5 Z M1047 308.93 h5 v47.82 h-5 Z M1053 356.44 h5 v81.23 h-5 Z M1060 437.05 h5 v6.74 h-5 Z M1066 443.18 h5 v28.51 h-5 Z M1097 303.1 h5 v31.88 h-5 Z M1103 333.75 h5 v34.33 h-5 Z M1115 342.03 h5 v43.83 h-5 Z M1121 384.94 h5 v49.04 h-5 Z M1127 433.07 h5 v22.38 h-5 Z M1134 454.83 h5 v34.94 h-5 Z M1158 347.47 h5 v40.15 h-5 Z M1164 386.7 h5 v41.99 h-5 Z M1177 384.25 h5 v66.21 h-5 Z M1189 440.32 h5 v107.62 h-5 Z M1195 546.91 h5 v29.82 h-5 Z M1208 572.84 h5 v37.6 h-5 Z M1220 592.03 h5 v71.58 h-5 Z M1239 585.81 h5 v2.59 h-5 Z M1257 544.06 h5 v24.64 h-5 Z M1276 509.05 h5 v16.86 h-5 Z M1288 501.27 h5 v50.05 h-5 Z M1294 550.54 h5 v68.98 h-5 Z M1306 586.85 h5 v8.56 h-5 Z M1343 342.91 h5 v98.7 h-5 Z M1350 441 h5 v19 h-5 Z M1362 397.16 h5 v2.45 h-5 Z M1368 398.7 h5 v105.13 h-5 Z M1374 502.79 h5 v26.71 h-5 Z M1381 528.72 h5 v9.85 h-5 Z M1393 535.99 h5 v40.72 h-5 Z M1411 506.16 h5 v8.3 h-5 Z M1418 513.94 h5 v21.78 h-5 Z M1430 497.09 h5 v107.62 h-5 Z M1436 603.93 h5 v15.56 h-5 Z M1455 532.99 h5 v35.01 h-5 Z M1473 488.9 h5 v7.78 h-5 Z M1485 492.01 h5 v44.87 h-5 Z M1492 534.28 h5 v62.24 h-5 Z M1498 596.01 h5 v7.78 h-5 Z M1516 587.97 h5 v43.57 h-5 Z M1535 561 h5 v8.82 h-5 Z M1553 510.94 h5 v60.94 h-5 Z M1560 570.59 h5 v13.74 h-5 Z M1578 573.96 h5 v11.41 h-5 Z" fill="#e50000"/>
<path d="M10 584.5 H1651" stroke="#2e7d50" stroke-width="1" stroke-dasharray="1 2"/>
</g>
<g clip-path="url(#rp)"><path d="M10.3 766.6 L12.71 763.62 L18.88 762.17 L25.05 770.68 L31.23 764.38 L37.4 754.46 L43.57 754.81 L49.75 749.62 L55.92 743.43 L62.09 746.17 L68.26 744.88 L74.44 747.03 L80.61 747.41 L86.78 738.34 L92.95 745.49 L99.12 754.46 L105.3 756.83 L111.47 756.83 L117.64 761.04 L123.81 745.86 L129.99 749.34 L136.16 741.4 L142.33 754.28 L148.51 748.81 L154.68 752.58 L160.85 746.71 L167.02 744.88 L173.2 746.51 L179.37 749.37 L185.54 745.09 L191.71 738.76 L197.89 740.84 L204.06 735.61 L210.23 736.11 L216.4 731.09 L222.58 723.06 L228.75 719.25 L234.92 727.83 L241.09 724.12 L247.27 737.84 L253.44 747.79 L259.61 755.44 L265.78 751.12 L271.95 747.79 L278.13 744.16 L284.3 733.52 L290.47 733.1 L296.64 730.9 L302.82 728.54 L308.99 736.3 L315.16 729.89 L321.33 727.3 L327.51 727.76 L333.68 735.17 L339.85 730.97 L346.02 729.1 L352.2 741.83 L358.37 736.45 L364.54 731.15 L370.71 733.63 L376.89 735.94 L383.06 727.41 L389.23 734.39 L395.4 739.29 L401.58 733.92 L407.75 735.39 L413.92 741.86 L420.1 739.65 L426.27 740.62 L432.44 731.02 L438.61 724.22 L444.79 724.02 L450.96 716.16 L457.13 715.02 L463.3 724.98 L469.48 730.67 L475.65 730.85 L481.82 724.2 L487.99 731.01 L494.17 728.47 L500.34 721.19 L506.51 717.6 L512.68 711.51 L518.86 710.66 L525.03 706.21 L531.2 708.55 L537.37 710.86 L543.55 723 L549.72 718.29 L555.89 724.55 L562.06 725.36 L568.24 724.02 L574.41 728.01 L580.58 748.73 L586.75 751.75 L592.93 750.25 L599.1 750.49 L605.27 740.41 L611.44 745.38 L617.62 738.08 L623.79 739.11 L629.96 747.24 L636.13 756.52 L642.31 769.25 L648.48 769.4 L654.65 774.24 L660.82 767.97 L667 769.57 L673.17 761.82 L679.34 759.29 L685.51 766.96 L691.69 758.97 L697.86 763.23 L704.03 759.66 L710.2 755.27 L716.38 749.76 L722.55 752.55 L728.72 759.44 L734.89 765.13 L741.07 767.12 L747.24 758.61 L753.41 751.28 L759.58 739.16 L765.76 746.68 L771.93 755.42 L778.1 759.51 L784.27 773.14 L790.45 777.01 L796.62 767.01 L802.79 758.16 L808.96 759.23 L815.14 743.2 L821.31 743.48 L827.48 742.53 L833.65 744.99 L839.83 742.02 L846 731.7 L852.17 727.84 L858.34 729.18 L864.52 726.31 L870.69 731.61 L876.86 725.69 L883.03 733.57 L889.21 732.96 L895.38 728.37 L901.55 731.31 L907.72 721.74 L913.9 723.77 L920.07 721.49 L926.24 719.23 L932.41 726.32 L938.59 735.83 L944.76 740.29 L950.93 736.97 L957.1 735.63 L963.28 741.68 L969.45 742.59 L975.62 752.5 L981.79 738.29 L987.97 744.53 L994.14 758.46 L1000.31 760.8 L1006.48 765.2 L1012.66 765.22 L1018.83 758 L1025 768.34 L1031.17 770.6 L1037.35 773.44 L1043.52 749.4 L1049.69 757.47 L1055.86 768.35 L1062.04 769.08 L1068.21 772.38 L1074.38 758.23 L1080.55 755.19 L1086.73 750.62 L1092.9 739.27 L1099.07 744.75 L1105.24 750.07 L1111.42 745.48 L1117.59 752.44 L1123.76 759.19 L1129.93 761.99 L1136.11 766.27 L1142.28 760.25 L1148.45 749.73 L1154.62 740.53 L1160.8 746.82 L1166.97 752.69 L1173.14 745.53 L1179.31 754.55 L1185.49 752.88 L1191.66 765.26 L1197.83 768.05 L1204 767.33 L1210.18 771.09 L1216.35 767.45 L1222.52 774.42 L1228.69 768.69 L1234.87 759.84 L1241.04 760.15 L1247.21 754.82 L1253.38 752.13 L1259.56 755.71 L1265.73 745.56 L1271.9 745.25 L1278.07 748.07 L1284.25 743.57 L1290.42 752.04 L1296.59 761.62 L1302.76 755.37 L1308.94 756.58 L1315.11 744.37 L1321.28 743.26 L1327.45 732 L1333.62 729.51 L1339.8 720.05 L1345.97 736.69 L1352.14 739.4 L1358.32 731.8 L1364.49 732.2 L1370.66 747.18 L1376.83 750.36 L1383.01 751.49 L1389.18 751.08 L1395.35 756.48 L1401.52 751.74 L1407.7 744.88 L1413.87 746.16 L1420.04 749.48 L1426.21 742.96 L1432.39 758.09 L1438.56 759.85 L1444.73 751.94 L1450.9 745.67 L1457.08 750.6 L1463.25 740.77 L1469.42 739.1 L1475.59 740.37 L1481.77 739.69 L1487.94 747.2 L1494.11 755.89 L1500.28 756.88 L1506.46 756.47 L1512.63 753.62 L1518.8 760.31 L1524.97 747.64 L1531.15 746.62 L1537.32 748.18 L1543.49 741.93 L1549.66 737.34 L1555.84 748.68 L1562.01 750.78 L1568.18 750.35 L1574.35 748.55 L1580.53 750.82 L1586.7 750.5" stroke="#7e57c2" stroke-width="1" fill="none" stroke-linejoin="round"/></g>
<path d="M11 695.5 H1704" stroke="#e0e3eb" stroke-width="1"/>
<rect x="10" y="10" width="1695" height="803" fill="none" stroke="#ebecf1" stroke-width="2"/>
<text x="1659" y="22.5" font-size="12" fill="#4a4a4a" dominant-baseline="central">88.000</text>
<text x="1659" y="80.5" font-size="12" fill="#4a4a4a" dominant-baseline="central">86.000</text>
<text x="1659" y="138.5" font-size="12" fill="#4a4a4a" dominant-baseline="central">84.000</text>
<text x="1659" y="195.5" font-size="12" fill="#4a4a4a" dominant-baseline="central">82.000</text>
<text x="1659" y="253.5" font-size="12" fill="#4a4a4a" dominant-baseline="central">80.000</text>
<text x="1659" y="311.5" font-size="12" fill="#4a4a4a" dominant-baseline="central">78.000</text>
<text x="1659" y="369.5" font-size="12" fill="#4a4a4a" dominant-baseline="central">76.000</text>
<text x="1659" y="426.5" font-size="12" fill="#4a4a4a" dominant-baseline="central">74.000</text>
<text x="1659" y="484.5" font-size="12" fill="#4a4a4a" dominant-baseline="central">72.000</text>
<text x="1659" y="542.5" font-size="12" fill="#4a4a4a" dominant-baseline="central">70.000</text>
<text x="1659" y="599.5" font-size="12" fill="#4a4a4a" dominant-baseline="central">68.000</text>
<text x="1659" y="657.5" font-size="12" fill="#4a4a4a" dominant-baseline="central">66.000</text>
<text x="1659" y="698.25" font-size="12" fill="#4a4a4a" dominant-baseline="central" clip-path="url(#rl)">80.00</text>
<text x="1659" y="729.35" font-size="12" fill="#4a4a4a" dominant-baseline="central" clip-path="url(#rl)">60.00</text>
<text x="1659" y="760.45" font-size="12" fill="#4a4a4a" dominant-baseline="central" clip-path="url(#rl)">40.00</text>
<rect x="1651" y="39" width="49" height="17" rx="1" fill="#ffeb3b"/>
<text x="1659" y="47.5" font-size="12" fill="#131722" dominant-baseline="central">87.124</text>
<rect x="1651" y="247" width="49" height="17" rx="1" fill="#00bcd4"/>
<text x="1659" y="255.5" font-size="12" fill="#131722" dominant-baseline="central">79.944</text>
<rect x="1651" y="355" width="49" height="17" rx="1" fill="#ff9800"/>
<text x="1659" y="363.5" font-size="12" fill="#131722" dominant-baseline="central">76.185</text>
<rect x="1651" y="381" width="49" height="17" rx="1" fill="#ff9800"/>
<text x="1659" y="389.5" font-size="12" fill="#131722" dominant-baseline="central">75.276</text>
<rect x="1651" y="474" width="49" height="17" rx="1" fill="#f23645"/>
<text x="1659" y="482.5" font-size="12" font-weight="bold" fill="#ffffff" dominant-baseline="central">72.014</text>
<rect x="1651" y="491" width="49" height="17" rx="1" fill="#00bcd4"/>
<text x="1659" y="499.5" font-size="12" fill="#131722" dominant-baseline="central">71.464</text>
<rect x="1651" y="527" width="49" height="17" rx="1" fill="#9c27b0"/>
<text x="1659" y="535.5" font-size="12" font-weight="bold" fill="#ffffff" dominant-baseline="central">70.244</text>
<rect x="1651" y="576" width="49" height="17" rx="1" fill="#2e7d50"/>
<text x="1659" y="584.5" font-size="12" font-weight="bold" fill="#ffffff" dominant-baseline="central">68.536</text>
<rect x="1651" y="617" width="49" height="17" rx="1" fill="#2962ff"/>
<text x="1659" y="625.5" font-size="12" font-weight="bold" fill="#ffffff" dominant-baseline="central">67.118</text>
<rect x="1651" y="742" width="43" height="17" rx="1" fill="#7e57c2"/>
<text x="1658.5" y="750.5" font-size="12" font-weight="bold" fill="#ffffff" dominant-baseline="central">46.00</text>
<text x="110.7" y="799" font-size="12" fill="#4a4a4a" text-anchor="middle" dominant-baseline="central" font-weight="bold">2024</text>
<text x="252.9" y="799" font-size="12" fill="#4a4a4a" text-anchor="middle" dominant-baseline="central">Feb</text>
<text x="382.7" y="799" font-size="12" fill="#4a4a4a" text-anchor="middle" dominant-baseline="central">Mar</text>
<text x="505.6" y="799" font-size="12" fill="#4a4a4a" text-anchor="middle" dominant-baseline="central">Apr</text>
<text x="641.7" y="799" font-size="12" fill="#4a4a4a" text-anchor="middle" dominant-baseline="central">May</text>
<text x="783.4" y="799" font-size="12" fill="#4a4a4a" text-anchor="middle" dominant-baseline="central">Jun</text>
<text x="906.7" y="799" font-size="12" fill="#4a4a4a" text-anchor="middle" dominant-baseline="central">Jul</text>
<text x="1048.9" y="799" font-size="12" fill="#4a4a4a" text-anchor="middle" dominant-baseline="central">Aug</text>
<text x="1185.1" y="799" font-size="12" fill="#4a4a4a" text-anchor="middle" dominant-baseline="central">Sep</text>
<text x="1314.7" y="799" font-size="12" fill="#4a4a4a" text-anchor="middle" dominant-baseline="central">Oct</text>
<text x="1456.6" y="799" font-size="12" fill="#4a4a4a" text-anchor="middle" dominant-baseline="central">Nov</text>
<text x="1585.8" y="799" font-size="12" fill="#4a4a4a" text-anchor="middle" dominant-baseline="central">Dec</text>
<text x="18" y="29" font-size="12" fill="#4a4a4a" textLength="181.5" lengthAdjust="spacingAndGlyphs">West Texas Intermediate (Oil), 1D</text>
<text x="207.2" y="29" font-size="12" fill="#4a4a4a" textLength="43.6" lengthAdjust="spacingAndGlyphs">O<tspan fill="#2e7d50">68.489</tspan></text>
<text x="258.4" y="29" font-size="12" fill="#4a4a4a" textLength="43" lengthAdjust="spacingAndGlyphs">H<tspan fill="#2e7d50">68.672</tspan></text>
<text x="309" y="29" font-size="12" fill="#4a4a4a" textLength="41.8" lengthAdjust="spacingAndGlyphs">L<tspan fill="#2e7d50">67.829</tspan></text>
<text x="358.2" y="29" font-size="12" fill="#4a4a4a" textLength="43.2" lengthAdjust="spacingAndGlyphs">C<tspan fill="#2e7d50">68.536</tspan></text>
<text x="408.6" y="29" font-size="12" fill="#2e7d50" textLength="85" lengthAdjust="spacingAndGlyphs">+0.047 (+0.07%)</text>
<text x="18" y="46" font-size="12" fill="#4a4a4a">MA (55, close, 0)</text><text x="115" y="46" font-size="12" fill="#9c27b0">70.244</text>
<text x="18" y="63" font-size="12" fill="#4a4a4a">MA (100, close, 0)</text><text x="121.5" y="63" font-size="12" fill="#f23645">72.014</text>
<text x="18" y="80" font-size="12" fill="#4a4a4a">MA (200, close, 0)</text><text x="121.5" y="80" font-size="12" fill="#ff9800">76.185</text>
<text x="18.5" y="715" font-size="12" fill="#4a4a4a" textLength="40" lengthAdjust="spacingAndGlyphs">RSI (14)</text>
<text x="65.5" y="715" font-size="12" fill="#7e57c2">46.00</text>
<g transform="translate(10,825.2)" fill="#131722"><path d="M0 0 H7.9 V9.5 H3.9 V3.8 H0 Z"/><circle cx="11" cy="1.8" r="1.9"/><path d="M14.6 0 H19.6 L15.2 9.5 H11.2 Z"/></g>
<text x="33.3" y="834.7" font-size="12.5" fill="#131722" textLength="69.5" lengthAdjust="spacingAndGlyphs">TradingView</text>
</svg></body></html>
